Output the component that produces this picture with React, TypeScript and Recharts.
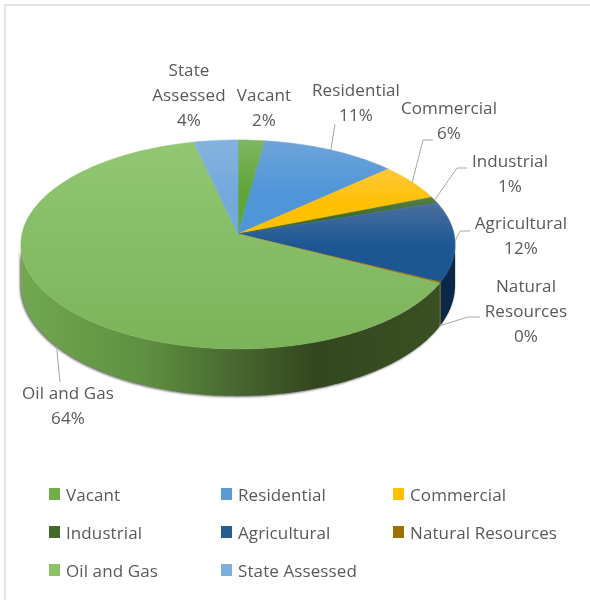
import { PieChart, Pie, Legend } from 'recharts';

const CATEGORIES = ['Vacant', 'Residential', 'Commercial', 'Industrial', 'Agricultural', 'Natural Resources', 'Oil and Gas', 'State Assessed'];
const VALUES = [2.2, 11.1, 5.7, 1.0, 12.3, 0.2, 63.9, 3.6];

// legend colours, then the lit top of each slice and the shade of its side wall
const COLORS = ['#70ad47', '#5b9bd5', '#ffc000', '#43682b', '#255e91', '#9e7000', '#8cc168', '#7cafdd'];
const TOP_LIGHT = ['#7fb562', '#6fa3d9', '#fcc83a', '#55804a', '#4a6f9e', '#a88020', '#92c673', '#85b3e0'];
const TOP_BASE = ['#5fa53a', '#4f96d8', '#ffc000', '#3f6b28', '#1c5793', '#9e7000', '#7cb35a', '#74a9dc'];
const WALL_STOPS: [number, string][] = [[0, '#72a851'], [0.3, '#5f8f40'], [0.44, '#4f7535'], [0.7, '#33471f'], [1, '#3a5023']];

// label text lines and where they sit
const LABEL_LINES = [['Vacant'], ['Residential'], ['Commercial'], ['Industrial'], ['Agricultural'], ['Natural', 'Resources'], ['Oil and Gas'], ['State', 'Assessed']];
const LABEL_X = [264, 356, 449, 510, 521, 526, 68, 189];
const LABEL_Y = [95, 90, 108, 161, 223, 286, 393, 70];
// leader elbow + end, null for labels without a leader
const LEADERS: (number[][] | null)[] = [
  null,
  [[335, 124]],
  [[423, 140], [433, 140]],
  [[457, 168], [467, 168]],
  [[460, 231], [470, 231]],
  [[468, 317], [480, 317]],
  [[60, 382]],
  null,
];

const RX = 216;
const RY = 103.4;
const PERSPECTIVE = 0.1;
const RAD = Math.PI / 180;
const FONT = '"Open Sans", "Noto Sans", sans-serif';
const TEXT = '#595959';
const FONT_SIZE = 17;
const TRACKING = 0.1;

// tilted disc: the far side is squeezed, so the apex is above the ellipse centre
const project = (cx: number, cy: number, angle: number) => {
  const u = Math.cos(angle * RAD);
  const v = Math.sin(angle * RAD);
  const w = 1 + PERSPECTIVE * v;
  return { x: cx + (RX * u) / w, y: cy - (RY * v) / w, v };
};
const depthAt = (v: number) => 40 + 7 * -v;

const arcAngles = (a: number, b: number) => {
  const out: number[] = [];
  const step = a > b ? -1 : 1;
  for (let t = a; step < 0 ? t > b : t < b; t += step) out.push(t);
  out.push(b);
  return out;
};

const Slice = (props: any) => {
  const { cx, cy, startAngle, endAngle, index } = props;
  const i = index ?? CATEGORIES.indexOf(props.name);
  const angles = arcAngles(startAngle, endAngle);
  const rim = angles.map((a) => project(cx, cy, a));
  const top = `M${cx},${cy} ` + rim.map((p) => `L${p.x.toFixed(2)},${p.y.toFixed(2)}`).join(' ') + ' Z';

  const front = rim.filter((p) => p.v <= -0.1);
  let wall = '';
  if (front.length > 1) {
    const low = [...front].reverse().map((p) => `L${p.x.toFixed(2)},${(p.y + depthAt(p.v)).toFixed(2)}`);
    wall = 'M' + front.map((p) => `${p.x.toFixed(2)},${p.y.toFixed(2)}`).join(' L') + ' ' + low.join(' ') + ' Z';
  }
  const isOil = CATEGORIES[i] === 'Oil and Gas';
  const wallFill = isOil ? 'url(#oilWall)' : i === 5 ? '#7a5a05' : '#0a2848';

  return (
    <g>
      <defs>
        <linearGradient id={`top${i}`} x1="0" y1="0" x2="0" y2="1">
          <stop offset="0" stopColor={TOP_LIGHT[i]} />
          <stop offset={isOil ? '1' : '0.55'} stopColor={TOP_BASE[i]} />
        </linearGradient>
        {isOil && (
          <linearGradient id="oilWall" x1="0" y1="0" x2="1" y2="0">
            {WALL_STOPS.map(([o, c]) => (
              <stop key={o} offset={o} stopColor={c} />
            ))}
          </linearGradient>
        )}
      </defs>
      {wall && <path d={wall} fill={wallFill} style={{ filter: 'drop-shadow(-1px 1px 1px rgba(50,50,50,0.75))' }} />}
      <path d={top} fill={`url(#top${i})`} stroke={`url(#top${i})`} strokeWidth={0.6} />
    </g>
  );
};

const SliceLabel = (props: any) => {
  const { cx, cy, midAngle, index, percent } = props;
  const p = project(cx, cy, midAngle);
  const anchor = { x: p.x, y: p.v < -0.3 ? p.y + depthAt(p.v) : p.y };
  const leader = LEADERS[index];
  const lines = [...LABEL_LINES[index], `${Math.round(percent * 100)}%`];
  return (
    <g>
      {leader && (
        <polyline
          points={[[anchor.x, anchor.y], ...leader].map((q) => q.join(',')).join(' ')}
          fill="none"
          stroke="#a6a6a6"
          strokeWidth={1}
        />
      )}
      <text textAnchor="middle" fontFamily={FONT} fontSize={FONT_SIZE} letterSpacing={TRACKING} fill={TEXT}>
        {lines.map((line, k) => (
          <tspan key={k} x={LABEL_X[index]} y={LABEL_Y[index] + 25 * k} dy="0.35em">
            {line}
          </tspan>
        ))}
      </text>
    </g>
  );
};

const ChartLegend = ({ payload }: any) => (
  <div
    style={{
      display: 'grid',
      gridTemplateColumns: '172px 172px 172px',
      gridAutoRows: '38px',
      paddingLeft: 49,
      fontFamily: FONT,
      fontSize: FONT_SIZE,
      letterSpacing: TRACKING,
      color: TEXT,
    }}
  >
    {(payload || []).map((entry: any, index: number) => (
      <div key={index} style={{ display: 'flex', alignItems: 'center', height: 24 }}>
        <span style={{ width: 11, height: 12, background: entry.color, marginRight: 6, flex: 'none' }} />
        <span style={{ whiteSpace: 'nowrap' }}>{entry.value}</span>
      </div>
    ))}
  </div>
);

const tableData = CATEGORIES.map((name, i) => ({ name, value: VALUES[i], fill: COLORS[i] }));

export default function App() {
  return (
    <div style={{ position: 'absolute', left: 0, top: 0, width: 590, height: 600, background: '#fff', overflow: 'hidden' }}>
      <div style={{ position: 'absolute', left: 4, top: 4, width: 586, height: 596, borderLeft: '2px solid #e4e4e4', borderTop: '2px solid #e4e4e4', boxSizing: 'border-box' }} />
      <div style={{ position: 'absolute', left: 0, top: 0, filter: 'blur(0.45px)' }}>
        <PieChart width={590} height={600} margin={{ top: 0, right: 0, bottom: 0, left: 0 }}>
          <Pie
            data={tableData}
            dataKey="value"
            nameKey="name"
            cx={238}
            cy={234}
            outerRadius={RX}
            startAngle={90}
            endAngle={-270}
            paddingAngle={0}
            stroke="none"
            shape={Slice}
            label={SliceLabel}
            labelLine={false}
            isAnimationActive={false}
          />
          <Legend itemSorter={null} content={<ChartLegend />} wrapperStyle={{ position: 'absolute', left: 0, top: 482, width: 590 }} />
        </PieChart>
      </div>
    </div>
  );
}
